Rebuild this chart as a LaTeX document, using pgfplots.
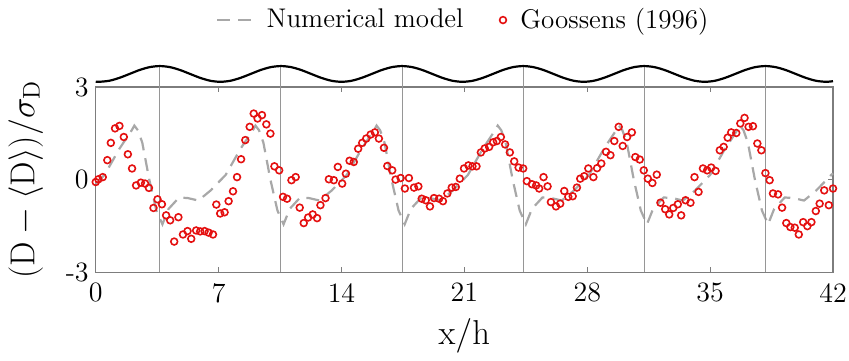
\documentclass[border=0pt]{standalone}
\usepackage{pgfplots}
\pgfplotsset{compat=1.18}
\definecolor{dred}{RGB}{228,16,16}
\definecolor{mgray}{RGB}{168,168,168}
\definecolor{fgray}{RGB}{125,125,125}
\definecolor{vgray}{RGB}{150,150,150}
\begin{document}
\begin{tikzpicture}
\begin{axis}[
  scale only axis, width=368.5pt, height=92.5pt,
  xmin=0, xmax=42, ymin=-3, ymax=3,
  xtick={0,7,14,21,28,35,42}, xticklabels={0,7,14,21,28,35,42},
  ytick={-3,0,3}, yticklabels={-3,0,3},
  tick align=inside, major tick length=2.5pt,
  axis line style={fgray, line width=0.6pt},
  every tick/.style={fgray, line width=0.5pt},
  tick label style={font=\fontsize{14}{16}\selectfont},
  xticklabel style={yshift=-2pt},
  xlabel={$\mathrm{x/h}$},
  ylabel={$(\mathrm{D}-\langle\mathrm{D}\rangle)/\sigma_\mathrm{D}$},
  label style={font=\fontsize{16.5}{19}\selectfont},
  xlabel style={at={(axis description cs:0.5,-0.343)}, anchor=center},
  ylabel style={at={(axis description cs:-0.095,0.5)}, anchor=center},
  clip=false,
  legend columns=2,
  legend style={draw=none, fill=none, at={(0.5,1.362)}, anchor=center,
    font=\fontsize{13.5}{16}\selectfont,
    /tikz/every odd column/.append style={column sep=5pt},
    /tikz/every even column/.append style={column sep=16pt}},
  legend cell align=left,
]
% numerical model
\addplot[mgray, line width=1.1pt, dash pattern=on 6.5pt off 4pt] coordinates {
(0,-0.14) (0.5,0.15) (1.35,1.0) (2.05,1.6) (2.2,1.75) (2.4,1.6) (2.65,1.2) (2.85,0.6) (3.05,0.0) (3.25,-0.5) (3.45,-1.0) (3.8,-1.45) (4.15,-0.95) (4.75,-0.58) (5.25,-0.6) (5.85,-0.68) (6.55,-0.35) (7.4,0.15) (8.25,1.0) (8.95,1.6)
(9.1,1.75) (9.3,1.6) (9.55,1.2) (9.75,0.6) (9.95,0.0) (10.15,-0.5) (10.35,-1.0) (10.7,-1.45) (11.05,-0.95) (11.65,-0.58) (12.15,-0.6) (12.75,-0.68) (13.45,-0.35) (14.3,0.15) (15.15,1.0) (15.85,1.6)
(16.0,1.75) (16.2,1.6) (16.45,1.2) (16.65,0.6) (16.85,0.0) (17.05,-0.5) (17.25,-1.0) (17.6,-1.45) (17.95,-0.95) (18.55,-0.58) (19.05,-0.6) (19.65,-0.68) (20.35,-0.35) (21.2,0.15) (22.05,1.0) (22.75,1.6)
(22.9,1.75) (23.1,1.6) (23.35,1.2) (23.55,0.6) (23.75,0.0) (23.95,-0.5) (24.15,-1.0) (24.5,-1.45) (24.85,-0.95) (25.45,-0.58) (25.95,-0.6) (26.55,-0.68) (27.25,-0.35) (28.1,0.15) (28.95,1.0) (29.65,1.6)
(29.8,1.75) (30.0,1.6) (30.25,1.2) (30.45,0.6) (30.65,0.0) (30.85,-0.5) (31.05,-1.0) (31.4,-1.45) (31.75,-0.95) (32.35,-0.58) (32.85,-0.6) (33.45,-0.68) (34.15,-0.35) (35.0,0.15) (35.85,1.0) (36.55,1.6)
(36.7,1.75) (36.9,1.6) (37.15,1.2) (37.35,0.6) (37.55,0.0) (37.75,-0.5) (37.95,-1.0) (38.3,-1.45) (38.65,-0.95) (39.25,-0.58) (39.75,-0.6) (40.35,-0.68) (41.05,-0.35) (41.9,0.15) (42.0,0.2)
};
\addlegendentry{Numerical model}
% measurements
\addplot[only marks, mark=o, mark size=1.7pt, mark options={draw=dred, line width=0.8pt}] coordinates {
(0.0,-0.08) (0.15,0.01) (0.40,0.08) (0.66,0.63) (0.86,1.19) (1.10,1.66) (1.35,1.74) (1.60,1.38) (1.83,0.82) (2.07,0.36) (2.30,-0.19) (2.57,-0.10) (2.81,-0.13) (3.03,-0.27) (3.29,-0.92) (3.52,-0.64) (3.77,-0.80) (4.01,-1.16) (4.24,-1.32) (4.47,-2.01) (4.71,-1.22) (4.97,-1.78) (5.23,-1.67) (5.44,-1.92) (5.72,-1.65) (5.95,-1.68) (6.20,-1.67) (6.43,-1.72) (6.68,-1.78) (6.87,-0.81) (7.09,-1.10) (7.34,-1.06) (7.57,-0.70)
(7.82,-0.38) (8.05,0.08) (8.28,0.66) (8.52,1.28) (8.77,1.71) (9.00,2.14) (9.22,1.98) (9.47,2.09) (9.72,1.79) (9.95,1.49) (10.18,0.43) (10.45,0.30) (10.67,-0.56) (10.90,-0.62) (11.15,-0.02) (11.39,0.08) (11.62,-0.91) (11.85,-1.41) (12.10,-1.23) (12.36,-1.13) (12.61,-1.25) (12.80,-0.83) (13.09,-0.60) (13.28,0.01) (13.56,-0.02) (13.79,0.41) (14.04,-0.13) (14.25,0.19)
(14.46,0.61) (14.70,0.57) (14.95,1.00) (15.18,1.19) (15.41,1.33) (15.66,1.46) (15.90,1.53) (16.13,1.33) (16.42,1.03) (16.61,0.44) (16.89,0.30) (17.08,0.00) (17.37,0.05) (17.61,-0.29) (17.84,0.05) (18.13,-0.26) (18.38,-0.22) (18.57,-0.62) (18.80,-0.67) (19.04,-0.87) (19.27,-0.60) (19.56,-0.62) (19.78,-0.70) (20.03,-0.45) (20.28,-0.26) (20.51,-0.24) (20.74,0.03) (20.98,0.36) (21.23,0.46) (21.46,0.43) (21.69,0.43) (21.94,0.88)
(22.16,1.01) (22.41,1.06) (22.64,1.21) (22.85,1.25) (23.08,1.38) (23.32,1.14) (23.59,0.88) (23.84,0.59) (24.09,0.39) (24.35,0.36) (24.56,-0.05) (24.85,-0.15) (25.09,-0.19) (25.26,-0.29) (25.51,0.08) (25.74,-0.22) (25.93,-0.73) (26.22,-0.87) (26.46,-0.78) (26.69,-0.37) (26.92,-0.56) (27.17,-0.54) (27.41,-0.26) (27.60,0.03) (27.83,0.11) (28.06,0.36) (28.35,0.08) (28.56,0.37) (28.80,0.52)
(29.07,0.90) (29.32,0.79) (29.54,1.25) (29.79,1.71) (30.02,1.09) (30.27,1.38) (30.54,1.53) (30.74,0.73) (30.99,0.65) (31.22,0.30) (31.45,0.03) (31.71,-0.11) (31.96,0.16) (32.17,-0.75) (32.44,-0.96) (32.67,-1.13) (32.90,-0.92) (33.16,-0.80) (33.35,-1.16) (33.60,-0.67) (33.88,-0.75) (34.11,0.08) (34.34,-0.40) (34.59,0.36) (34.83,0.30) (35.06,0.39) (35.31,0.28)
(35.55,0.95) (35.77,1.06) (36.00,1.36) (36.20,1.53) (36.49,1.51) (36.72,1.82) (36.96,2.00) (37.19,1.71) (37.44,1.73) (37.69,1.17) (37.92,0.95) (38.15,0.21) (38.39,-0.02) (38.58,-0.45) (38.87,-0.48) (39.10,-0.91) (39.34,-1.41) (39.57,-1.54) (39.82,-1.56) (40.05,-1.78) (40.30,-1.38) (40.54,-1.51) (40.77,-1.38) (41.02,-1.02) (41.24,-0.78) (41.50,-0.35) (41.76,-0.83) (42.0,-0.29)
};
\addlegendentry{Goossens (1996)}
% crest lines
\addplot[vgray, line width=0.5pt, forget plot] coordinates {(3.65,-3) (3.65,3.68)};
\addplot[vgray, line width=0.5pt, forget plot] coordinates {(10.55,-3) (10.55,3.68)};
\addplot[vgray, line width=0.5pt, forget plot] coordinates {(17.45,-3) (17.45,3.68)};
\addplot[vgray, line width=0.5pt, forget plot] coordinates {(24.35,-3) (24.35,3.68)};
\addplot[vgray, line width=0.5pt, forget plot] coordinates {(31.25,-3) (31.25,3.68)};
\addplot[vgray, line width=0.5pt, forget plot] coordinates {(38.15,-3) (38.15,3.68)};
% bed profile
\addplot[black, line width=1.1pt, smooth, forget plot] coordinates {
(0,3.175) (0.2,3.17) (0.775,3.204) (1.35,3.298) (1.925,3.425) (2.5,3.553) (3.075,3.646) (3.65,3.68) (4.225,3.646) (4.8,3.553) (5.375,3.425) (5.95,3.298) (6.525,3.204)
(7.1,3.17) (7.675,3.204) (8.25,3.298) (8.825,3.425) (9.4,3.553) (9.975,3.646) (10.55,3.68) (11.125,3.646) (11.7,3.553) (12.275,3.425) (12.85,3.298) (13.425,3.204)
(14.0,3.17) (14.575,3.204) (15.15,3.298) (15.725,3.425) (16.3,3.553) (16.875,3.646) (17.45,3.68) (18.025,3.646) (18.6,3.553) (19.175,3.425) (19.75,3.298) (20.325,3.204)
(20.9,3.17) (21.475,3.204) (22.05,3.298) (22.625,3.425) (23.2,3.553) (23.775,3.646) (24.35,3.68) (24.925,3.646) (25.5,3.553) (26.075,3.425) (26.65,3.298) (27.225,3.204)
(27.8,3.17) (28.375,3.204) (28.95,3.298) (29.525,3.425) (30.1,3.553) (30.675,3.646) (31.25,3.68) (31.825,3.646) (32.4,3.553) (32.975,3.425) (33.55,3.298) (34.125,3.204)
(34.7,3.17) (35.275,3.204) (35.85,3.298) (36.425,3.425) (37.0,3.553) (37.575,3.646) (38.15,3.68) (38.725,3.646) (39.3,3.553) (39.875,3.425) (40.45,3.298) (41.025,3.204)
(41.6,3.17) (42.0,3.19)
};
\end{axis}
\pgfresetboundingbox
\path[use as bounding box] (-47.85pt,-44.15pt) rectangle (376.5pt,136pt);
\end{tikzpicture}
\end{document}
